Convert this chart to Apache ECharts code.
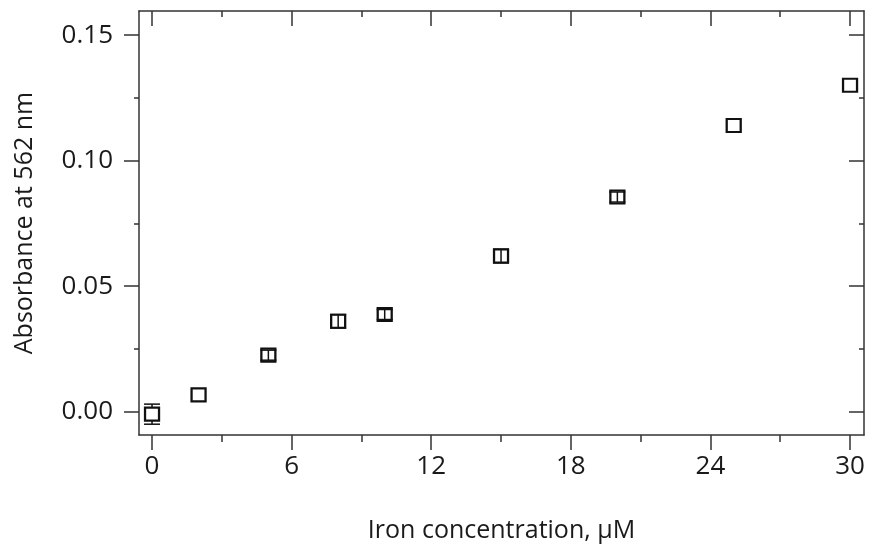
<!DOCTYPE html>
<html>
<head>
<meta charset="utf-8">
<script src="https://cdn.jsdelivr.net/npm/echarts@6/dist/echarts.min.js"></script>
<style>
html,body{margin:0;padding:0;background:#fff;}
#chart{width:875px;height:553px;}
</style>
</head>
<body>
<div id="chart"></div>
<script>
const xValues = [0, 2, 5, 8, 10, 15, 20, 25, 30];
const yValues = [-0.001, 0.0067, 0.0225, 0.036, 0.0387, 0.062, 0.0855, 0.114, 0.130];
const yErrors = [0.004, 0, 0.002, 0.0027, 0.002, 0.0028, 0.002, 0, 0];
const xMajorTicks = [0, 6, 12, 18, 24, 30];
const xMinorTicks = [3, 9, 15, 21, 27];
const yMajorTicks = [0, 0.05, 0.10, 0.15];
const yMinorTicks = [0.025, 0.075, 0.125];

const FONT = 'Open Sans';
const TXT = '#1a1a1a';
const LINE = '#333333';
const X_MIN = -0.56, X_MAX = 30.6, Y_MIN = -0.0093, Y_MAX = 0.1596;

const points = xValues.map((x, i) => [x, yValues[i], yErrors[i]]);

function mkX(pos, ticks, len, inside, withLine, withLabel) {
  return {
    type: 'value', min: X_MIN, max: X_MAX, position: pos,
    axisLine: { show: withLine, onZero: false, lineStyle: { color: LINE, width: 1.5 } },
    axisTick: { show: true, inside: inside, length: len, customValues: ticks, lineStyle: { color: LINE, width: 1.5 } },
    axisLabel: withLabel ? { show: true, customValues: ticks, margin: 19, fontFamily: FONT, fontSize: 26, color: TXT } : { show: false },
    splitLine: { show: false }
  };
}
function mkY(pos, ticks, len, inside, withLine, withLabel) {
  return {
    type: 'value', min: Y_MIN, max: Y_MAX, position: pos,
    axisLine: { show: withLine, onZero: false, lineStyle: { color: LINE, width: 1.5 } },
    axisTick: { show: true, inside: inside, length: len, customValues: ticks, lineStyle: { color: LINE, width: 1.5 } },
    axisLabel: withLabel ? { show: true, customValues: ticks, margin: 26, fontFamily: FONT, fontSize: 26, color: TXT, formatter: v => v.toFixed(2) } : { show: false },
    splitLine: { show: false }
  };
}

const xAxes = [
  Object.assign(mkX('bottom', xMajorTicks, 15, false, true, true), {
    name: 'Iron concentration, \u00B5M', nameLocation: 'middle', nameGap: 83,
    nameTextStyle: { fontFamily: FONT, fontSize: 25, color: TXT }
  }),
  mkX('bottom', xMinorTicks, 7, false, false, false),
  mkX('top', xMajorTicks, 15, true, true, false),
  mkX('top', xMinorTicks, 6, true, false, false)
];
const yAxes = [
  Object.assign(mkY('left', yMajorTicks, 15, false, true, true), {
    name: 'Absorbance at 562 nm', nameLocation: 'middle', nameGap: 102,
    nameTextStyle: { fontFamily: FONT, fontSize: 25, color: TXT }
  }),
  mkY('left', yMinorTicks, 5, false, false, false),
  mkY('right', yMajorTicks, 15, true, true, false),
  mkY('right', yMinorTicks, 5, true, false, false)
];

const chart = echarts.init(document.getElementById('chart'), null, { renderer: 'canvas' });
chart.setOption({
  animation: false,
  backgroundColor: '#fff',
  grid: { left: 139, right: 11, top: 11, bottom: 118 },
  xAxis: xAxes,
  yAxis: yAxes,
  series: [
    {
      type: 'scatter', xAxisIndex: 0, yAxisIndex: 0, z: 2,
      symbol: 'rect', symbolSize: [14, 13],
      itemStyle: { color: '#fff', borderColor: '#111', borderWidth: 2.2, opacity: 1 },
      data: points.map(p => [p[0], p[1]])
    },
    {
      type: 'custom', xAxisIndex: 0, yAxisIndex: 0, z: 3,
      data: points,
      renderItem: function (params, api) {
        const x = api.value(0), y = api.value(1), e = api.value(2);
        if (!e) return null;
        const c = api.coord([x, y]);
        const t = api.coord([x, y + e]);
        const b = api.coord([x, y - e]);
        const hw = 8, hb = 6.5;
        const st = { stroke: '#111', lineWidth: 1.5 };
        const children = [
          { type: 'line', shape: { x1: c[0] - hw, y1: t[1], x2: c[0] + hw, y2: t[1] }, style: st },
          { type: 'line', shape: { x1: c[0] - hw, y1: b[1], x2: c[0] + hw, y2: b[1] }, style: st }
        ];
        if (c[1] - t[1] > hb + 1) {
          children.push({ type: 'line', shape: { x1: c[0], y1: t[1], x2: c[0], y2: c[1] - hb }, style: st });
          children.push({ type: 'line', shape: { x1: c[0], y1: c[1] + hb, x2: c[0], y2: b[1] }, style: st });
        } else {
          children.push({ type: 'line', shape: { x1: c[0], y1: t[1], x2: c[0], y2: b[1] }, style: st });
        }
        return { type: 'group', children: children };
      }
    }
  ]
});
</script>
</body>
</html>
